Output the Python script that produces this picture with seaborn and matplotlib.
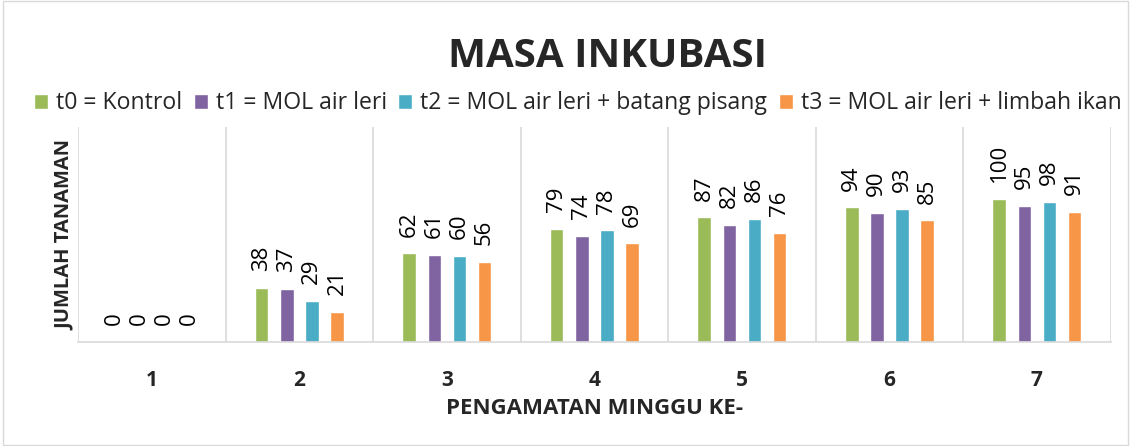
import matplotlib

matplotlib.use("Agg")
import matplotlib.pyplot as plt
import numpy as np
import pandas as pd
import seaborn as sns

weeks = ["1", "2", "3", "4", "5", "6", "7"]
series = [
    "t0 = Kontrol",
    "t1 = MOL air leri",
    "t2 = MOL air leri + batang pisang",
    "t3 = MOL air leri + limbah ikan",
]
t0 = [0, 38, 62, 79, 87, 94, 100]
t1 = [0, 37, 61, 74, 82, 90, 95]
t2 = [0, 29, 60, 78, 86, 93, 98]
t3 = [0, 21, 56, 69, 76, 85, 91]
colors = ["#9BBB59", "#8064A2", "#4BACC6", "#F79646"]

df = pd.DataFrame({
    "minggu": weeks * 4,
    "jumlah": t0 + t1 + t2 + t3,
    "perlakuan": np.repeat(series, len(weeks)),
})

sns.set_theme(style="white")
plt.rcParams["font.family"] = ["Open Sans", "DejaVu Sans"]

fig = plt.figure(figsize=(11.31, 4.46), dpi=100)
ax = fig.add_axes([0.069, 0.233, 0.913, 0.482])

sns.barplot(data=df, x="minggu", y="jumlah", hue="perlakuan", palette=colors,
            saturation=1, width=0.68, gap=0.46, ax=ax, legend=True)

for cont in ax.containers:
    ax.bar_label(cont, rotation=90, padding=12, fontsize=16, color="#000000")

ax.set_ylim(0, 150)
ax.set_yticks([])
ax.set_xlim(-0.5, len(weeks) - 0.5)
ax.set_xticks(np.arange(-0.5, len(weeks)), minor=True)
ax.grid(True, which="minor", axis="x", color="#d9d9d9", lw=1.2)
ax.tick_params(axis="x", which="both", length=0)
for lbl in ax.get_xticklabels():
    lbl.set_fontweight("bold")
    lbl.set_fontsize(15)
ax.tick_params(axis="x", pad=20)
for s in ["top", "right", "left"]:
    ax.spines[s].set_visible(False)
ax.spines["bottom"].set_color("#d9d9d9")
ax.spines["bottom"].set_linewidth(1.2)

ax.set_xlabel("PENGAMATAN MINGGU KE-", fontsize=16, fontweight="bold", labelpad=5)
ax.set_ylabel("JUMLAH TANAMAN", fontsize=14.5, fontweight="bold", labelpad=2)

ax.legend(loc="lower center", bbox_to_anchor=(0.484, 0.99), ncol=4, frameon=False,
          fontsize=16.6, handlelength=0.6, handleheight=0.6, handletextpad=0.35,
          columnspacing=0.5, borderaxespad=0.2)

fig.text(0.537, 0.873, "MASA INKUBASI", ha="center", va="center",
         fontsize=29, fontweight="bold")

fig.patches.append(plt.Rectangle((0.003, 0.003), 0.994, 0.994, transform=fig.transFigure,
                                 fill=False, edgecolor="#d9d9d9", lw=1))

fig.savefig("out.png", dpi=100)
